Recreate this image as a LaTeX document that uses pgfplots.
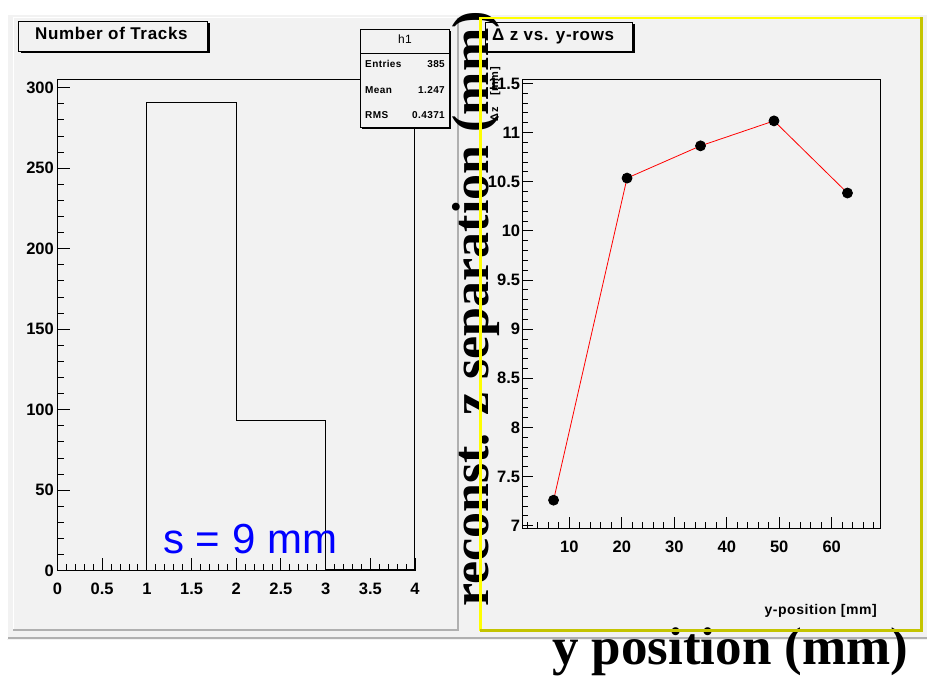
\documentclass[border=0pt]{standalone}
\usepackage{pgfplots}
\pgfplotsset{compat=1.18}
\usepackage{fontspec}
\setmainfont{Liberation Sans}
\newfontfamily\serifbig{Liberation Serif}
\newfontfamily\rootfont{Liberation Sans}[LetterSpace=4]

\definecolor{canvas}{HTML}{F2F2F2}
\definecolor{padedge}{HTML}{B0B0B0}
\definecolor{selyellow}{HTML}{FFFF00}
\definecolor{selolive}{HTML}{C4C400}

\newcommand\fs[1]{\fontsize{#1}{#1}\selectfont}

\pgfplotsset{
  rootaxis/.style={
    scale only axis,
    anchor=south west,
    axis line style={black, line width=1pt},
    tick style={black, line width=0.9pt},
    tick pos=left,
    tick align=inside,
    major tick length=12.5pt,
    minor tick length=6.5pt,
    /pgf/number format/assume math mode=true,
    ticklabel style={font=\bfseries\fs{16.5}, inner sep=0pt},
    xticklabel style={anchor=north, yshift=-12pt},
  },
}

\begin{document}
\begin{tikzpicture}[x=1pt, y=1pt]
\path[use as bounding box] (0,0) rectangle (927,677);

% canvas and pads
\fill[canvas] (7,37) rectangle (927,662);
\draw[padedge, line width=2pt] (7,38.5) -- (927,38.5);
\draw[white, line width=1pt] (7.5,38) -- (7.5,662);
\draw[white, line width=1pt] (13.5,46) -- (13.5,659) -- (457,659);
\draw[padedge, line width=2pt] (13,46.5) -- (457.5,46.5) -- (457.5,659);

% left pad: histogram of track multiplicity
\begin{axis}[rootaxis,
  at={(57.5pt,106.3pt)}, width=357.5pt, height=491pt,
  xmin=0, xmax=4, ymin=0, ymax=305,
  xtick={0,0.5,...,4},
  minor xtick={0,0.1,...,4},
  ytick={0,50,...,300},
  minor ytick={0,10,...,300},
  yticklabel style={anchor=east, xshift=-3.5pt},
]
\addplot[const plot, black, line width=1pt] coordinates {
  (0,0) (1,291) (2,93) (3,1) (4,1)
};
\end{axis}

% right pad: z separation vs. y position
\begin{axis}[rootaxis,
  at={(522.3pt,148.7pt)}, width=357.7pt, height=448.3pt,
  xmin=1.04, xmax=69.2, ymin=6.974, ymax=11.535,
  xtick={10,20,...,60},
  minor xtick={2,4,...,68},
  ytick={7,7.5,...,11.5},
  minor ytick={7,7.1,...,11.5},
  major tick length=11pt,
  minor tick length=6pt,
  yticklabel style={anchor=east, xshift=-2pt},
]
\addplot[red, line width=0.8pt, mark=*, mark size=5pt,
         mark options={black, fill=black}] coordinates {
  (7,7.26) (21,10.537) (35,10.865) (49,11.119) (63,10.385)
};
\end{axis}

% title boxes
\fill[black] (20.5,623.5) rectangle (209.5,653.5);
\draw[fill=canvas, line width=0.8pt] (18,626) rectangle (207,656);
\node[anchor=base west, inner sep=0pt, font=\rootfont\bfseries\fs{17}] at (35,637) {Number of Tracks};

\fill[black] (487.5,623.5) rectangle (634.5,652.5);
\draw[fill=canvas, line width=0.8pt] (485,626) rectangle (632,655);
\node[anchor=base west, inner sep=0pt, font=\rootfont\bfseries\fs{17}] at (492,636) {Δ z vs. y-rows};

% statistics box
\fill[black] (362,548) rectangle (451,646);
\draw[fill=canvas, line width=0.8pt] (360,550) rectangle (449,648);
\draw[line width=0.8pt] (360,624) -- (449,624);
\node[anchor=base, inner sep=0pt, font=\rootfont\fs{12}] at (405,633) {h1};
\begin{scope}[every node/.style={inner sep=0pt, font=\rootfont\bfseries\fs{10}}]
  \node[anchor=base west] at (365,609.7) {Entries};
  \node[anchor=base east] at (445,609.7) {385};
  \node[anchor=base west] at (365,583.7) {Mean};
  \node[anchor=base east] at (445,583.7) {1.247};
  \node[anchor=base west] at (365,558.7) {RMS};
  \node[anchor=base east] at (445,558.7) {0.4371};
\end{scope}

% axis titles of the right pad
\node[anchor=base east, inner sep=0pt, font=\rootfont\bfseries\fs{14}] at (877,62) {y-position [mm]};
\node[rotate=90, anchor=base east, inner sep=0pt, font=\rootfont\bfseries\fs{11}] at (498,610) {Δz\hspace{12pt}[mm]};

% annotations
\node[anchor=base west, inner sep=0pt, text=blue, font=\fs{42}] at (163,123) {s = 9 mm};
\node[rotate=90, anchor=base west, inner sep=0pt, font=\serifbig\bfseries\fs{52}] at (488,70) {reconst. z separation (mm)};
\node[anchor=base west, inner sep=0pt, font=\serifbig\bfseries\fs{53}] at (552,12) {y position (mm)};

% selected pad frame
\draw[selyellow, line width=2.5pt] (480.5,46) -- (480.5,659) -- (921,659);
\draw[selolive, line width=3pt] (480,46.5) -- (921.5,46.5) -- (921.5,660);
\end{tikzpicture}
\end{document}
